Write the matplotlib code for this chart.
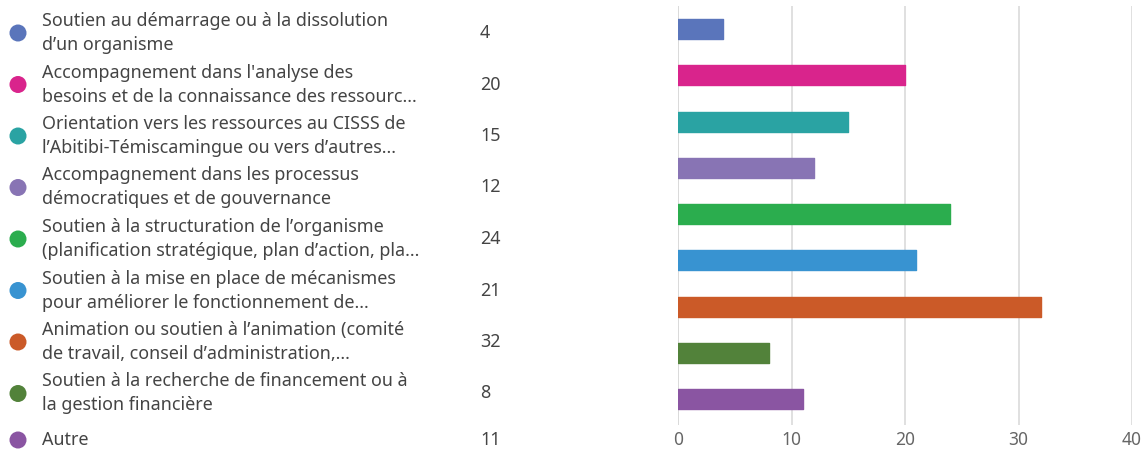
import numpy as np
import matplotlib.pyplot as plt

labels = [
    ("Soutien au démarrage ou à la dissolution", "d’un organisme"),
    ("Accompagnement dans l'analyse des", "besoins et de la connaissance des ressourc..."),
    ("Orientation vers les ressources au CISSS de", "l’Abitibi-Témiscamingue ou vers d’autres..."),
    ("Accompagnement dans les processus", "démocratiques et de gouvernance"),
    ("Soutien à la structuration de l’organisme", "(planification stratégique, plan d’action, pla..."),
    ("Soutien à la mise en place de mécanismes", "pour améliorer le fonctionnement de..."),
    ("Animation ou soutien à l’animation (comité", "de travail, conseil d’administration,..."),
    ("Soutien à la recherche de financement ou à", "la gestion financière"),
    ("Autre",),
]
counts = [4, 20, 15, 12, 24, 21, 32, 8, 11]
colors = ["#5a75bb", "#d9248c", "#2aa3a3", "#8874b4", "#2bad4e",
          "#3893d1", "#cb5a28", "#52823a", "#8a55a2"]
xticks = [0, 10, 20, 30, 40]

W, H = 1144, 453
fig = plt.figure(figsize=(W / 100, H / 100), dpi=100)
plt.rcParams['font.family'] = ['Noto Sans', 'DejaVu Sans']

# bar panel
ax = fig.add_axes([678 / W, 1 - 425 / H, (1132 - 678) / W, (425 - 6) / H])
y = np.arange(len(counts))
ax.barh(y, counts, height=0.43, color=colors, edgecolor=colors,
        linewidth=1, joinstyle='round', zorder=3)
ax.set_xlim(0, 40)
ax.set_ylim(8.56, -0.5)
ax.set_xticks(xticks)
ax.set_yticks([])
ax.grid(axis='x', color='#dddddd', linewidth=1.3, zorder=0)
for s in ax.spines.values():
    s.set_visible(False)
ax.axvline(0, color='#bbbbbb', linewidth=1.3, zorder=1)
ax.tick_params(axis='x', length=0, pad=4, labelsize=12.5, labelcolor='#666666')

# legend column with counts, in pixel coordinates
lg = fig.add_axes([0, 0, 1, 1])
lg.set_xlim(0, W)
lg.set_ylim(H, 0)
lg.axis('off')
fs = 12.9
for i, (lab, n, c) in enumerate(zip(labels, counts, colors)):
    cy = 33 + 51.5 * i
    if len(lab) == 1:
        cy = 440
        lg.text(42, cy, lab[0], fontsize=fs, color='#444444', va='center')
    else:
        lg.text(42, cy - 12, lab[0], fontsize=fs, color='#444444', va='center')
        lg.text(42, cy + 12, lab[1], fontsize=fs, color='#444444', va='center')
    lg.scatter(18, cy, s=150, color=c, edgecolors='none', clip_on=False)
    lg.text(480, cy, str(n), fontsize=fs, color='#444444', va='center')

fig.savefig('out.png', dpi=100, facecolor='white')
